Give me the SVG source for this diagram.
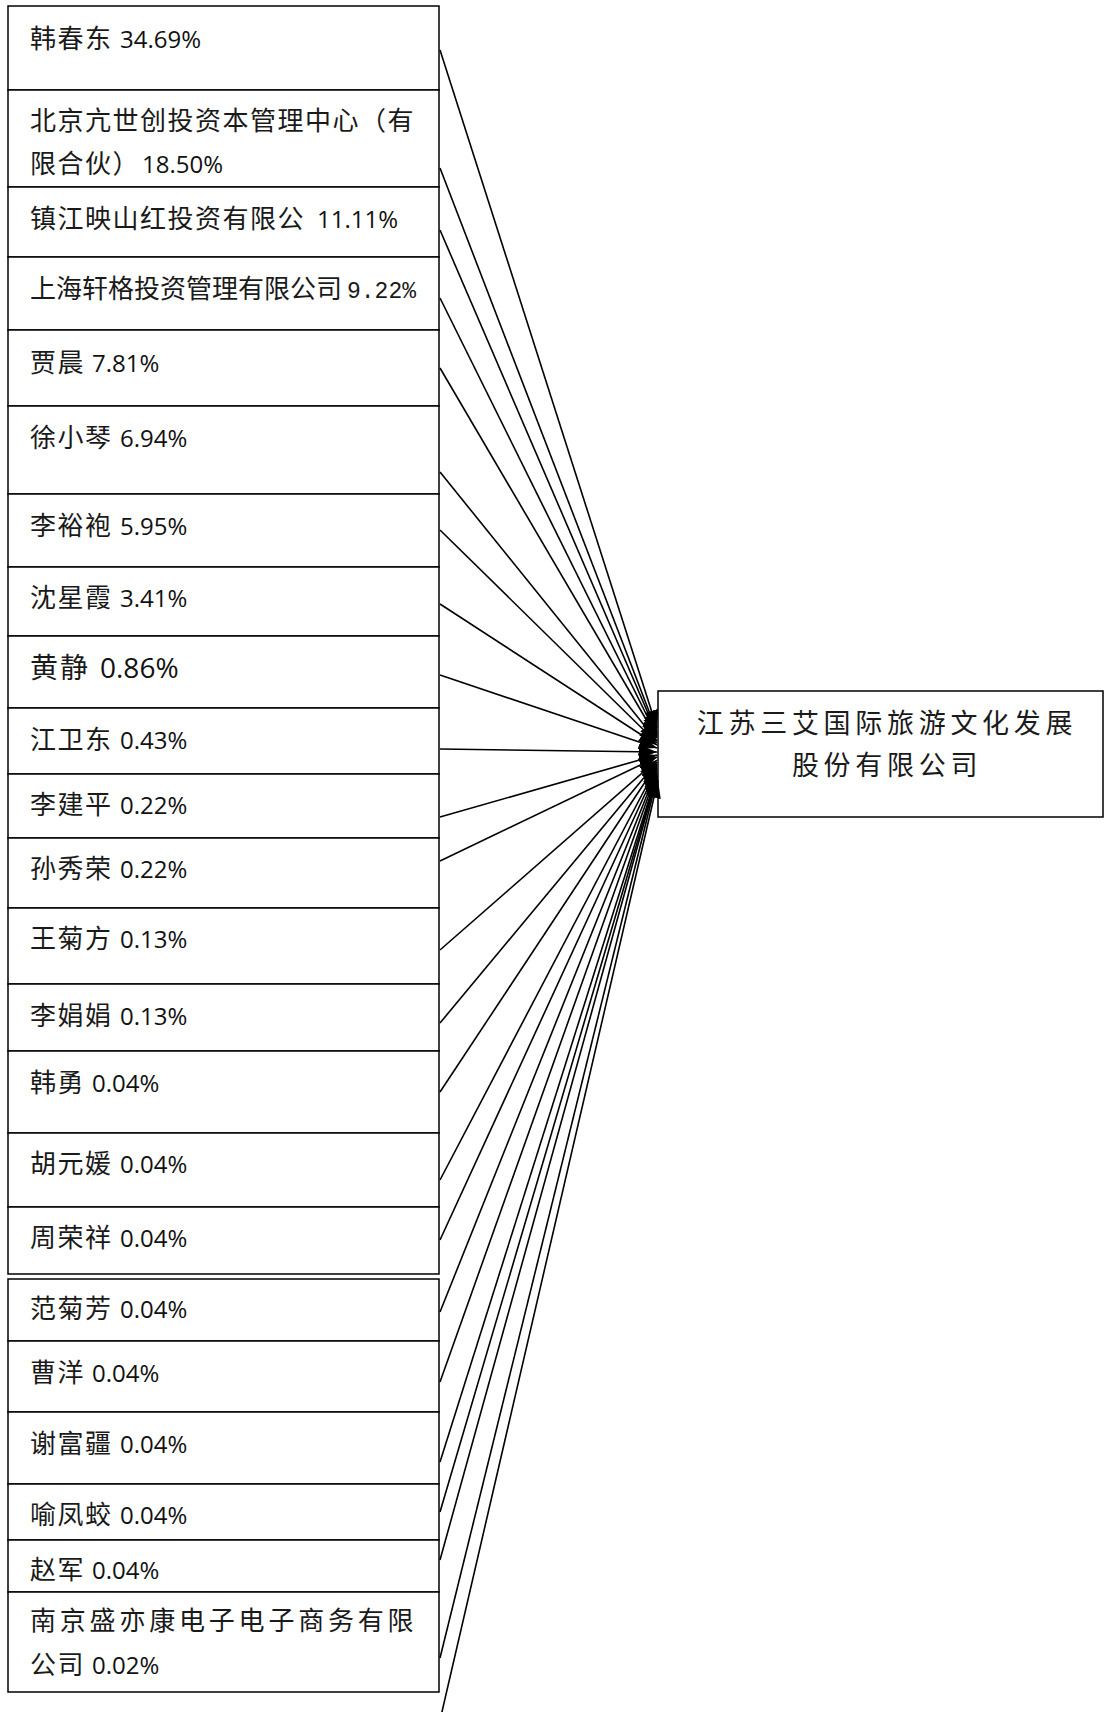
<svg xmlns="http://www.w3.org/2000/svg" width="1104" height="1712" viewBox="0 0 1104 1712">
<style>
.box{fill:#fff;stroke:#000;stroke-width:1.5}
.lbl{font-family:"Noto Sans CJK SC",sans-serif;font-size:26px;letter-spacing:1.5px;fill:#1a1a1a}
.n{font-family:"Open Sans","Liberation Sans",sans-serif;font-size:24px;letter-spacing:0;fill:#111}
.m{font-family:"Liberation Mono",monospace;font-size:23px;letter-spacing:0}
.big{font-size:28px;letter-spacing:2px}
.bign{font-size:28px}
.tgt{font-family:"Noto Sans CJK SC",sans-serif;font-size:27px;letter-spacing:4.7px;fill:#1a1a1a;text-anchor:middle}
.con line{stroke:#000;stroke-width:1.6;marker-end:url(#ah)}
</style>
<defs>
<marker id="ah" markerUnits="userSpaceOnUse" markerWidth="20" markerHeight="15" refX="18" refY="7" orient="auto">
<path d="M0,0 L18,7 L0,14 Z" fill="#000"/>
</marker>
</defs>
<rect width="1104" height="1712" fill="#fff"/>

<g id="n1"><rect class="box" x="8" y="6" width="431" height="84"/><text class="lbl" x="30" y="48">韩春东 <tspan class="n" x="120">34.69%</tspan></text></g>
<g id="n2"><rect class="box" x="8" y="90" width="431" height="97"/><text class="lbl" x="30" y="130">北京亢世创投资本管理中心（有</text><text class="lbl" x="30" y="173">限合伙）<tspan class="n" x="142">18.50%</tspan></text></g>
<g id="n3"><rect class="box" x="8" y="187" width="431" height="70"/><text class="lbl" x="30" y="228">镇江映山红投资有限公 <tspan class="n" x="317">11.11%</tspan></text></g>
<g id="n4"><rect class="box" x="8" y="257" width="431" height="73"/><text class="lbl" x="30" y="298" style="letter-spacing:0">上海轩格投资管理有限公司 <tspan class="m" x="347">9.22%</tspan></text></g>
<g id="n5"><rect class="box" x="8" y="330" width="431" height="76"/><text class="lbl" x="30" y="372">贾晨 <tspan class="n" x="92">7.81%</tspan></text></g>
<g id="n6"><rect class="box" x="8" y="406" width="431" height="88"/><text class="lbl" x="30" y="447">徐小琴 <tspan class="n" x="120">6.94%</tspan></text></g>
<g id="n7"><rect class="box" x="8" y="494" width="431" height="73"/><text class="lbl" x="30" y="535">李裕袍 <tspan class="n" x="120">5.95%</tspan></text></g>
<g id="n8"><rect class="box" x="8" y="567" width="431" height="69"/><text class="lbl" x="30" y="607">沈星霞 <tspan class="n" x="120">3.41%</tspan></text></g>
<g id="n9"><rect class="box" x="8" y="636" width="431" height="72"/><text class="lbl big" x="30" y="678">黄静 <tspan class="n bign" x="100">0.86%</tspan></text></g>
<g id="n10"><rect class="box" x="8" y="708" width="431" height="66"/><text class="lbl" x="30" y="749">江卫东 <tspan class="n" x="120">0.43%</tspan></text></g>
<g id="n11"><rect class="box" x="8" y="774" width="431" height="64"/><text class="lbl" x="30" y="814">李建平 <tspan class="n" x="120">0.22%</tspan></text></g>
<g id="n12"><rect class="box" x="8" y="838" width="431" height="70"/><text class="lbl" x="30" y="878">孙秀荣 <tspan class="n" x="120">0.22%</tspan></text></g>
<g id="n13"><rect class="box" x="8" y="908" width="431" height="76"/><text class="lbl" x="30" y="948">王菊方 <tspan class="n" x="120">0.13%</tspan></text></g>
<g id="n14"><rect class="box" x="8" y="984" width="431" height="67"/><text class="lbl" x="30" y="1025">李娟娟 <tspan class="n" x="120">0.13%</tspan></text></g>
<g id="n15"><rect class="box" x="8" y="1051" width="431" height="82"/><text class="lbl" x="30" y="1092">韩勇 <tspan class="n" x="92">0.04%</tspan></text></g>
<g id="n16"><rect class="box" x="8" y="1133" width="431" height="74"/><text class="lbl" x="30" y="1173">胡元媛 <tspan class="n" x="120">0.04%</tspan></text></g>
<g id="n17"><rect class="box" x="8" y="1207" width="431" height="67"/><text class="lbl" x="30" y="1247">周荣祥 <tspan class="n" x="120">0.04%</tspan></text></g>
<g id="n18"><rect class="box" x="8" y="1279" width="431" height="62"/><text class="lbl" x="30" y="1318">范菊芳 <tspan class="n" x="120">0.04%</tspan></text></g>
<g id="n19"><rect class="box" x="8" y="1341" width="431" height="71"/><text class="lbl" x="30" y="1382">曹洋 <tspan class="n" x="92">0.04%</tspan></text></g>
<g id="n20"><rect class="box" x="8" y="1412" width="431" height="72"/><text class="lbl" x="30" y="1453">谢富疆 <tspan class="n" x="120">0.04%</tspan></text></g>
<g id="n21"><rect class="box" x="8" y="1484" width="431" height="56"/><text class="lbl" x="30" y="1524">喻凤蛟 <tspan class="n" x="120">0.04%</tspan></text></g>
<g id="n22"><rect class="box" x="8" y="1540" width="431" height="52"/><text class="lbl" x="30" y="1579">赵军 <tspan class="n" x="92">0.04%</tspan></text></g>
<g id="n23"><rect class="box" x="8" y="1592" width="431" height="100"/><text class="lbl" x="30" y="1630" style="letter-spacing:3.8px">南京盛亦康电子电子商务有限</text><text class="lbl" x="30" y="1674">公司 <tspan class="n" x="92">0.02%</tspan></text></g>

<g id="target"><rect class="box" x="658" y="691" width="445" height="126"/><text class="tgt" x="887" y="733">江苏三艾国际旅游文化发展</text><text class="tgt" x="887" y="775">股份有限公司</text></g>

<g id="connectors" class="con">
<line x1="440" y1="50" x2="657" y2="728"/>
<line x1="440" y1="168" x2="657" y2="732"/>
<line x1="440" y1="230" x2="657" y2="734"/>
<line x1="440" y1="298" x2="657" y2="736"/>
<line x1="440" y1="368" x2="657" y2="738"/>
<line x1="440" y1="472" x2="657" y2="741"/>
<line x1="440" y1="530" x2="657" y2="743"/>
<line x1="440" y1="604" x2="657" y2="745"/>
<line x1="440" y1="675" x2="657" y2="748"/>
<line x1="440" y1="749" x2="657" y2="752"/>
<line x1="440" y1="817" x2="657" y2="755"/>
<line x1="440" y1="861" x2="657" y2="757"/>
<line x1="440" y1="950" x2="657" y2="760"/>
<line x1="440" y1="1023" x2="657" y2="762"/>
<line x1="440" y1="1092" x2="657" y2="764"/>
<line x1="440" y1="1180" x2="657" y2="766"/>
<line x1="440" y1="1240" x2="657" y2="768"/>
<line x1="440" y1="1312" x2="657" y2="770"/>
<line x1="440" y1="1382" x2="657" y2="772"/>
<line x1="440" y1="1462" x2="657" y2="774"/>
<line x1="440" y1="1512" x2="657" y2="775"/>
<line x1="440" y1="1560" x2="657" y2="776"/>
<line x1="440" y1="1658" x2="657" y2="778"/>
<line x1="441" y1="1716" x2="658" y2="780"/>
</g>
</svg>
